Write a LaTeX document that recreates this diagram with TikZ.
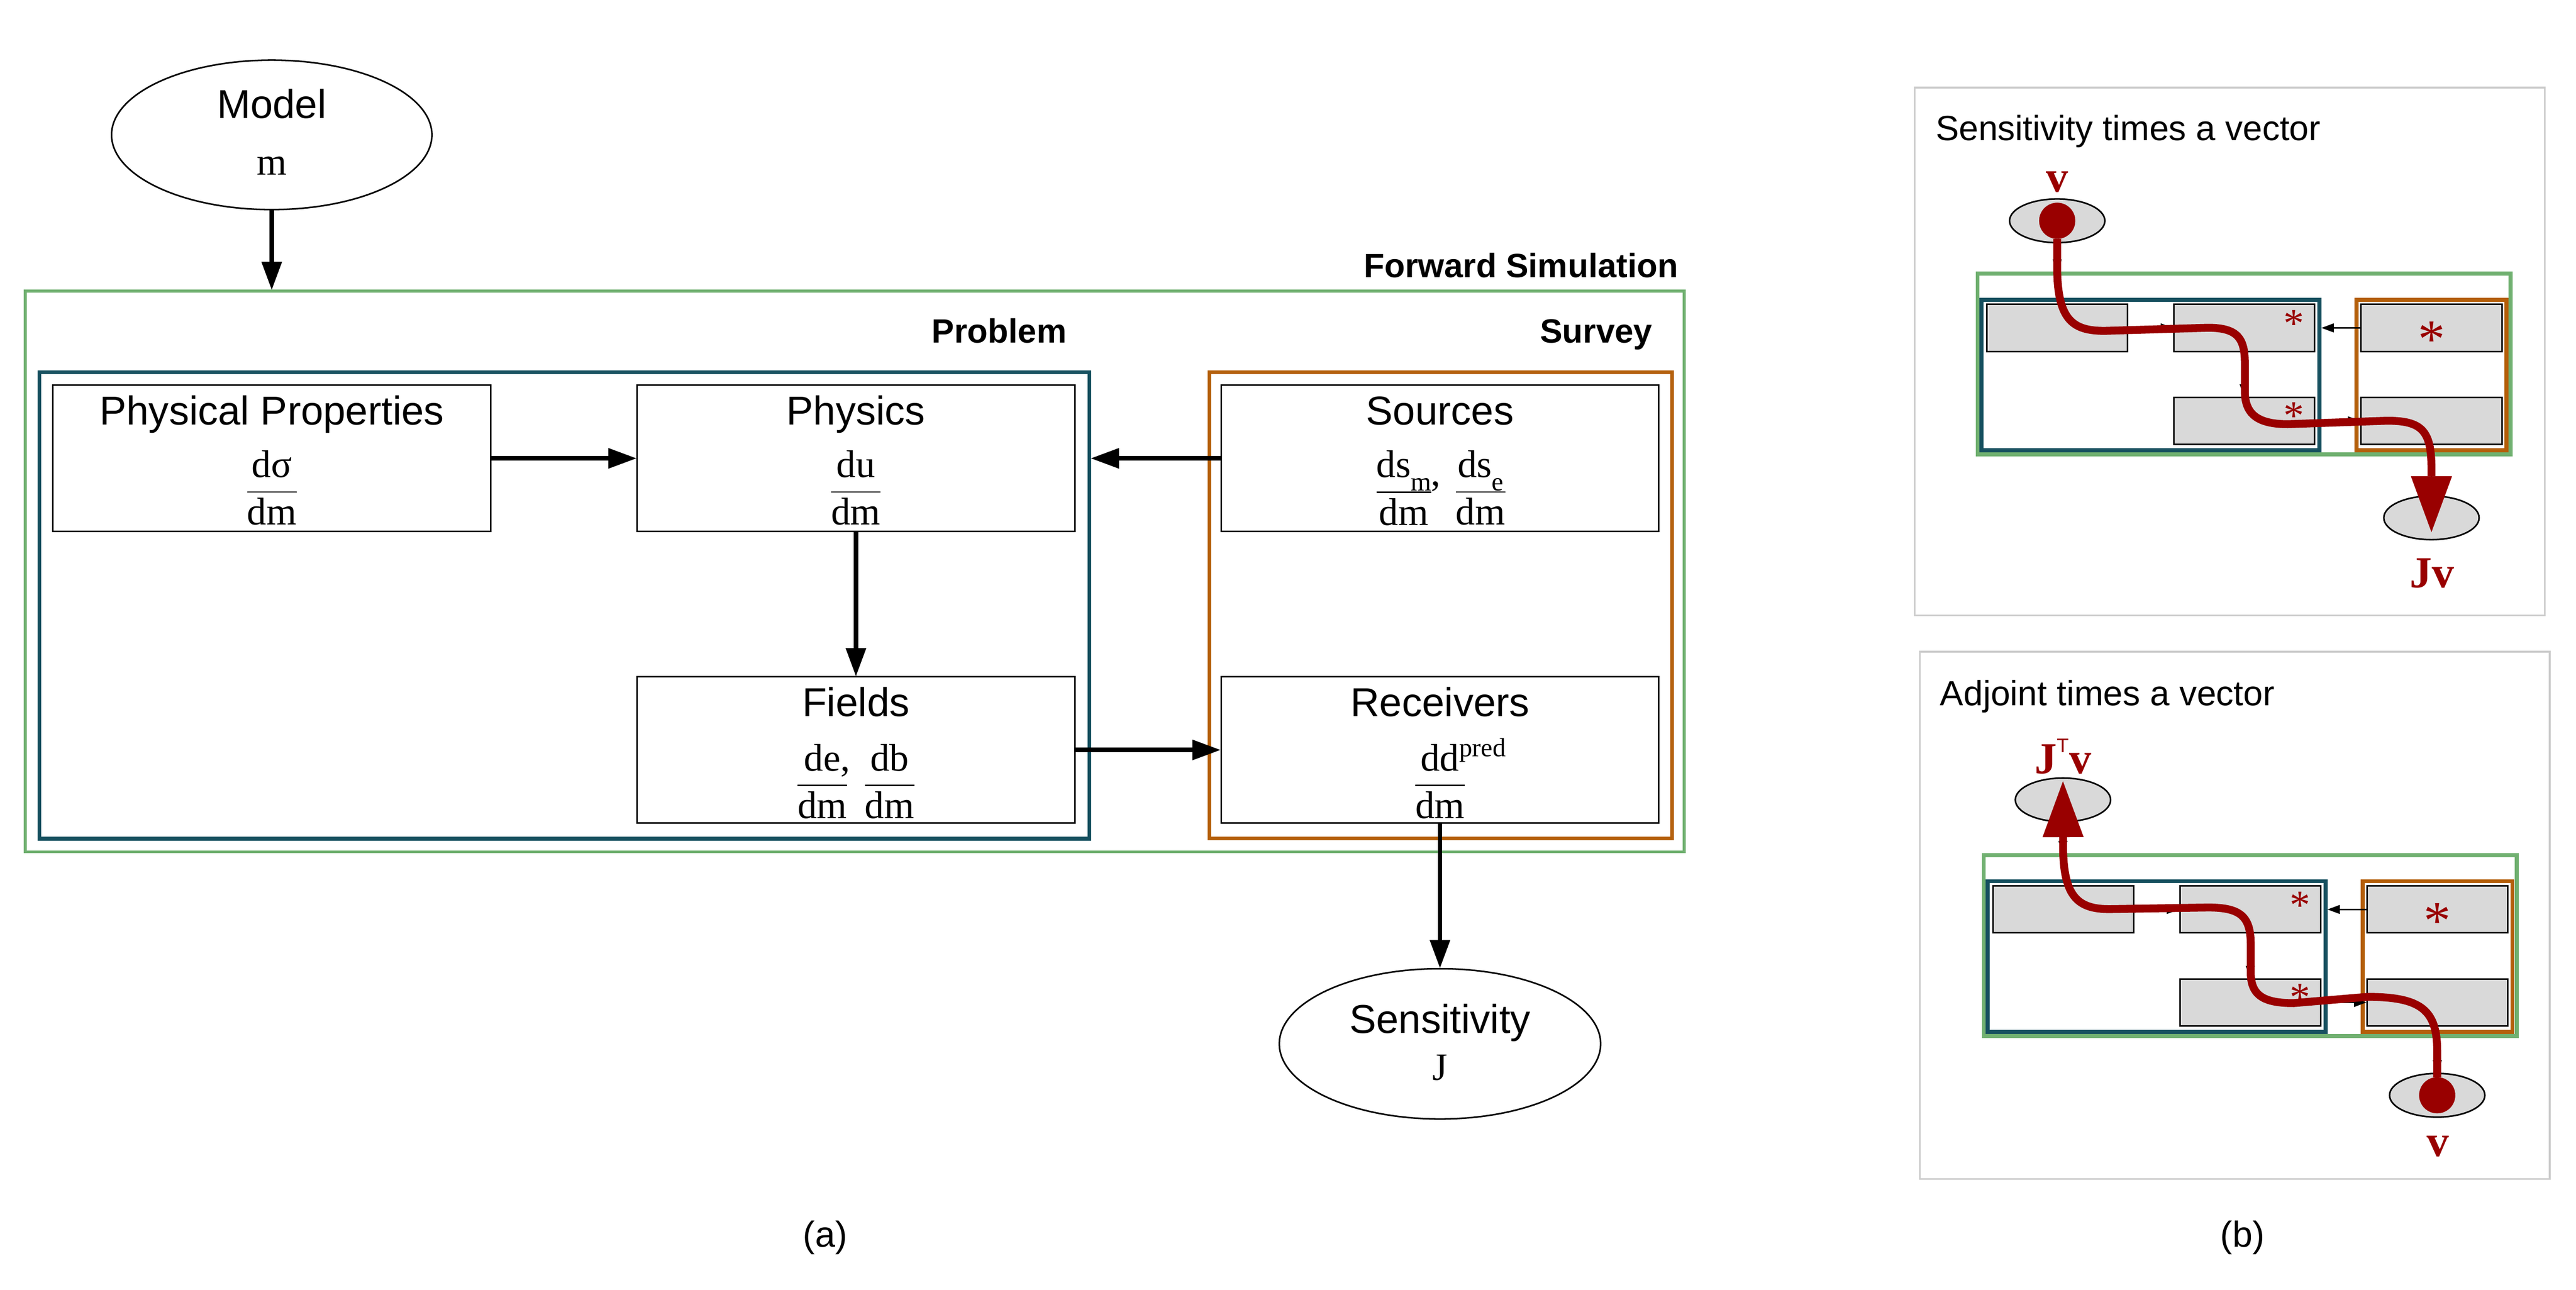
\documentclass[tikz,border=0pt]{standalone}
\usepackage{fontspec}
\setmainfont{Liberation Sans}
\newfontfamily\tmfont{Liberation Serif}
\usetikzlibrary{arrows.meta,shapes.geometric,positioning}
\definecolor{fwdgreen}{HTML}{70B070}
\definecolor{probteal}{HTML}{16505F}
\definecolor{survorange}{HTML}{B45F0A}
\definecolor{pathred}{HTML}{990000}
\definecolor{boxgray}{HTML}{D9D9D9}
\definecolor{panelgray}{HTML}{CCCCCC}
\setlength\arrayrulewidth{0.9pt}
\newcommand\quot[2]{\begin{tabular}{@{}c@{}}#1\\\hline #2\end{tabular}}
\newcommand\lowsub[1]{\raisebox{-8pt}{\fontsize{16}{16}\selectfont #1}}

\begin{document}
\begin{tikzpicture}[x=1pt,y=-1pt,
  box/.style={draw,line width=0.95pt,minimum width=266.5pt,minimum height=89pt,inner sep=0pt},
  mini/.style={draw,fill=boxgray,line width=0.95pt,minimum width=85.7pt,minimum height=28.6pt,inner sep=0pt},
  ellip/.style={ellipse,draw,line width=0.95pt,inner sep=0pt},
  frm/.style={draw=#1,inner sep=0pt},
  ttl/.style={anchor=base,inner sep=0pt,font=\fontsize{24.5}{28}\selectfont},
  hdr/.style={anchor=base east,inner sep=0pt,font=\bfseries\fontsize{20.5}{24}\selectfont},
  quotient/.style={inner sep=0pt,font=\tmfont\fontsize{23.5}{28}\selectfont},
  arr/.style={line width=2.7pt,-{Triangle[length=17pt,width=12.5pt,line width=0.5pt]}},
  minarr/.style={line width=0.8pt,-{Triangle[length=7.5pt,width=5.5pt,line width=0.3pt]}},
  redpath/.style={draw=pathred,line width=4.8pt},
  redtag/.style={anchor=base,inner sep=0pt,text=pathred,font=\tmfont\bfseries\fontsize{27}{30}\selectfont},
  astk/.style={anchor=base,inner sep=0pt,text=pathred,font=\tmfont\fontsize{25}{25}\selectfont},
  ptitle/.style={anchor=base west,inner sep=0pt,font=\fontsize{21.3}{25}\selectfont}]
\useasboundingbox (0,0) rectangle (1568,785);

\node[ellip,minimum width=195pt,minimum height=91pt] (model) at (165.4,82.1) {};
\node[frm=fwdgreen,line width=1.8pt,minimum width=1009.7pt,minimum height=341.3pt] (fwd) at (520.2,347.9) {};
\node[frm=probteal,line width=2.3pt,minimum width=639pt,minimum height=284pt] (prob) at (343.5,368.5) {};
\node[frm=survorange,line width=2.2pt,minimum width=281.5pt,minimum height=284pt] (surv) at (877,368.5) {};
\node[box] (pp) at (165.5,279) {};
\node[box] (phys) at (521,279) {};
\node[box] (src) at (876.5,279) {};
\node[box] (fld) at (521,456.5) {};
\node[box] (rec) at (876.5,456.5) {};
\node[ellip,minimum width=195.6pt,minimum height=91.5pt] (sens) at (876.5,635.4) {};

\node[ttl] (modeltxt) at (165.4,72) {Model};
\node[quotient,anchor=base] (mtxt) at (165.4,106.5) {m};
\node[hdr] (fwdtxt) at (1021.7,168.8) {Forward Simulation};
\node[hdr] (probtxt) at (649.4,208.8) {Problem};
\node[hdr] (survtxt) at (1006,208.8) {Survey};
\node[ttl] (pptxt) at (165.5,258.5) {Physical Properties};
\node[ttl] (phystxt) at (521,258.5) {Physics};
\node[ttl] (srctxt) at (876.5,258.5) {Sources};
\node[ttl] (fldtxt) at (521,436) {Fields};
\node[ttl] (rectxt) at (876.5,436) {Receivers};
\node[quotient] (ppfrac) at (165.5,299.5) {\quot{dσ}{dm}};
\node[quotient] (physfrac) at (521,299.5) {\quot{du}{dm}};
\node[quotient] (srcfrac) at (877,299.5) {\quot{ds\lowsub{m}\rlap{\raisebox{-5pt}{,}}}{dm}\hspace{15pt}\quot{ds\lowsub{e}}{dm}};
\node[quotient] (fldfrac) at (521,478) {\quot{de\rlap{,}}{dm}\hspace{11pt}\quot{db}{dm}};
\node[quotient] (recfrac) at (876.5,478) {\quot{dd\rlap{\raisebox{8.5pt}{\fontsize{16}{16}\selectfont pred}}}{dm}};
\node[ttl] (senstxt) at (876.5,628.9) {Sensitivity};
\node[quotient,anchor=base] (Jtxt) at (876.5,657.5) {J};

\path[arr] (model.south) edge (model.south |- fwd.north)
           (pp)          edge (phys)
           (src.west)    edge (src.west -| prob.east)
           (phys)        edge (fld)
           (fld)         edge (rec)
           (rec)         edge (sens);

\node[anchor=base,inner sep=0pt,font=\fontsize{22}{26}\selectfont] (capa) at (502.3,759) {(a)};
\node[anchor=base,inner sep=0pt,font=\fontsize{22}{26}\selectfont] (capb) at (1365,759) {(b)};

\node[frm=panelgray,line width=1.1pt,minimum width=383.5pt,minimum height=321.3pt] (tpanel) at (1357.2,214) {};
\node[ptitle] (ttitle) at (1178,85.6) {Sensitivity times a vector};
\node[frm=fwdgreen,line width=2.4pt,minimum width=324.5pt,minimum height=110pt] (tfwd) at (1366,221.6) {};
\node[frm=probteal,line width=2.4pt,minimum width=205.7pt,minimum height=91.7pt] (tprob) at (1309,228.3) {};
\node[frm=survorange,line width=2.4pt,minimum width=91.2pt,minimum height=91.7pt] (tsurv) at (1480,228.3) {};
\node[mini] (tpp) at (1252.2,199.6) {};
\node[mini] (tphys) at (1366,199.6) {};
\node[mini] (tsrc) at (1480,199.6) {};
\node[mini] (tfld) at (1366,256.2) {};
\node[mini] (trec) at (1480,256.2) {};
\node[ellip,fill=boxgray,minimum width=58pt,minimum height=26.6pt] (tv) at (1252.2,134.4) {};
\node[ellip,fill=boxgray,minimum width=58pt,minimum height=26.6pt] (tJv) at (1480,315.2) {};
\path[minarr] (tv) edge (tv |- tfwd.north)
              (tpp) edge (tphys)
              (tsrc) edge (tsrc -| tprob.east)
              (tphys) edge (tfld)
              (tfld) edge (trec)
              (trec) edge (tJv);
\node[astk] (tphysst) at (1396.2,205.4) {*};
\node[astk] (tfldst) at (1396.2,261.5) {*};
\node[astk,font=\tmfont\fontsize{33}{33}\selectfont] (tsrcst) at (1480,217.6) {*};
\draw[redpath,{Circle[length=22pt,line width=0.1pt]}-{Triangle[length=34pt,width=25pt,line width=0.1pt]}]
  ([yshift=11pt]tv.center) -- (1252.2,166) .. controls (1253,195) and (1262,201.4) .. (1281,201.4)
  -- (1344,199.5) .. controls (1362,199.5) and (1366.4,206) .. (1366.4,221)
  -- (1366.4,238) .. controls (1366.4,252) and (1374,258.2) .. (1392.6,258.2)
  -- (1453,256.1) .. controls (1474,256.1) and (1480,262) .. (1480,285)
  -- ([yshift=-8.7pt]tJv.center);
\node[redtag] (tvlbl) at (1252.2,116.9) {v};
\node[redtag] (tJvlbl) at (1480.2,357.7) {Jv};

\node[frm=panelgray,line width=1.1pt,minimum width=383.5pt,minimum height=320.9pt] (bpanel) at (1360.3,557.2) {};
\node[ptitle] (btitle) at (1180.8,429.5) {Adjoint times a vector};
\node[frm=fwdgreen,line width=2.4pt,minimum width=324.5pt,minimum height=110pt] (bfwd) at (1369.7,575.6) {};
\node[frm=probteal,line width=2.4pt,minimum width=205.7pt,minimum height=91.7pt] (bprob) at (1312.7,582.3) {};
\node[frm=survorange,line width=2.4pt,minimum width=91.2pt,minimum height=91.7pt] (bsurv) at (1483.7,582.3) {};
\node[mini] (bpp) at (1255.9,553.6) {};
\node[mini] (bphys) at (1369.7,553.6) {};
\node[mini] (bsrc) at (1483.7,553.6) {};
\node[mini] (bfld) at (1369.7,610.2) {};
\node[mini] (brec) at (1483.7,610.2) {};
\node[ellip,fill=boxgray,minimum width=58pt,minimum height=26.6pt] (bJT) at (1255.7,486.9) {};
\node[ellip,fill=boxgray,minimum width=58pt,minimum height=26.6pt] (bv) at (1483.5,666.7) {};
\path[minarr] (bJT) edge (bJT |- bfwd.north)
              (bpp) edge (bphys)
              (bsrc) edge (bsrc -| bprob.east)
              (bphys) edge (bfld)
              (bfld) edge (brec)
              (brec) edge (bv);
\node[astk] (bphysst) at (1399.9,559.4) {*};
\node[astk] (bfldst) at (1399.9,615.5) {*};
\node[astk,font=\tmfont\fontsize{33}{33}\selectfont] (bsrcst) at (1483.7,571.6) {*};
\draw[redpath,{Triangle[length=34pt,width=25pt,line width=0.1pt]}-{Circle[length=22pt,line width=0.1pt]}]
  ([yshift=11.3pt]bJT.center) -- (1255.8,518) .. controls (1256.5,546) and (1265,553.4) .. (1284,553.4)
  -- (1344,552.4) .. controls (1364,552.4) and (1370,558) .. (1370,575)
  -- (1370,592) .. controls (1370,606) and (1378,610.6) .. (1396,610.6)
  -- (1441,606.8) .. controls (1474,606.8) and (1483.5,615) .. (1483.5,640)
  -- ([yshift=-11pt]bv.center);
\node[redtag] (bJTlbl) at (1255.8,470.9) {J\raisebox{13pt}{\rmfamily\mdseries\fontsize{12}{12}\selectfont T}v};
\node[redtag] (bvlbl) at (1483.8,703.8) {v};
\end{tikzpicture}
\end{document}
